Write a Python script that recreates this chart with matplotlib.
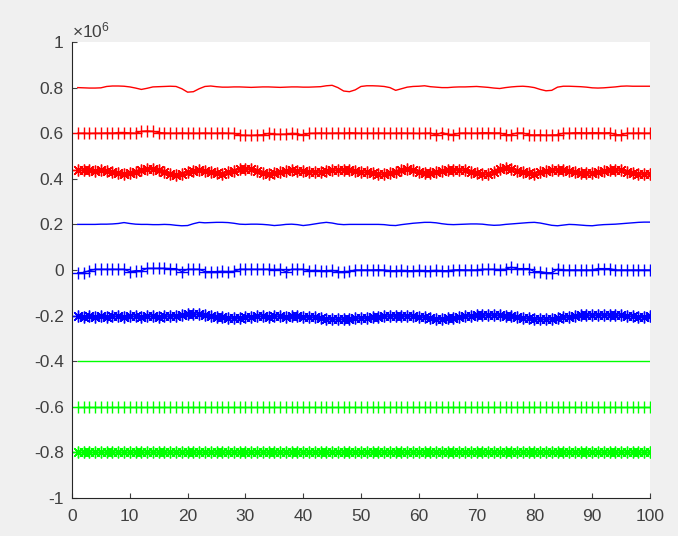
import numpy as np
import matplotlib
matplotlib.use("Agg")
from matplotlib import pyplot as plt
from matplotlib.ticker import FuncFormatter

plt.rcParams['font.family'] = ['Liberation Sans', 'DejaVu Sans']
plt.rcParams['mathtext.fontset'] = 'custom'
plt.rcParams['mathtext.rm'] = 'Liberation Sans'

x = np.arange(1, 101)

# values in thousands
red_line = [800, 799, 798, 798, 799, 805, 807, 807, 806, 803,
            798, 792, 797, 803, 804, 805, 806, 805, 795, 780,
            782, 795, 805, 807, 804, 802, 802, 803, 803, 802,
            801, 802, 803, 803, 802, 801, 802, 803, 803, 802,
            802, 803, 804, 808, 810, 800, 785, 782, 790, 805,
            808, 808, 807, 805, 800, 788, 795, 802, 805, 806,
            808, 804, 802, 800, 800, 802, 803, 803, 804, 805,
            803, 801, 798, 796, 800, 803, 805, 806, 804, 800,
            792, 786, 788, 802, 806, 806, 805, 804, 802, 799,
            798, 799, 801, 803, 806, 807, 806, 806, 806, 806]

red_plus = [600, 600, 599, 600, 600, 601, 600, 603, 603, 601,
            600, 608, 610, 608, 603, 601, 600, 600, 601, 600,
            600, 600, 601, 600, 600, 601, 600, 599, 592, 591,
            590, 592, 593, 599, 596, 595, 596, 599, 598, 590,
            599, 600, 601, 600, 600, 601, 600, 602, 601, 600,
            600, 600, 601, 600, 600, 600, 601, 600, 600, 599,
            600, 601, 592, 603, 595, 594, 600, 601, 600, 600,
            602, 602, 601, 601, 593, 594, 601, 601, 593, 592,
            593, 591, 592, 593, 600, 600, 602, 602, 601, 602,
            602, 601, 602, 594, 593, 600, 600, 601, 600, 600]

red_star = [437, 438, 437, 436, 437, 435, 430, 424, 420, 424,
            432, 440, 445, 444, 438, 428, 419, 415, 420, 430,
            436, 437, 433, 428, 424, 423, 428, 436, 443, 445,
            442, 434, 425, 420, 424, 430, 435, 437, 436, 434,
            432, 430, 430, 433, 437, 439, 440, 437, 433, 430,
            428, 424, 421, 420, 425, 432, 438, 441, 438, 432,
            427, 425, 428, 433, 437, 440, 440, 437, 431, 425,
            421, 420, 430, 442, 448, 444, 436, 429, 424, 423,
            428, 434, 438, 440, 438, 434, 430, 427, 425, 427,
            431, 436, 439, 440, 437, 432, 427, 423, 420, 422]

blue_line = [200, 200, 200, 200, 201, 201, 202, 204, 208, 204,
             201, 200, 200, 199, 199, 200, 199, 196, 194, 195,
             203, 209, 207, 208, 209, 209, 208, 205, 201, 200,
             201, 201, 200, 198, 195, 197, 200, 201, 199, 195,
             198, 202, 206, 209, 206, 201, 199, 200, 200, 200,
             200, 200, 200, 199, 196, 195, 199, 202, 205, 207,
             209, 209, 207, 203, 200, 199, 200, 201, 202, 202,
             201, 198, 196, 197, 200, 202, 204, 206, 208, 209,
             206, 201, 196, 194, 197, 200, 199, 197, 195, 194,
             197, 199, 200, 201, 203, 205, 207, 209, 210, 210]

blue_plus = [-12, -11, -3, 3, 3, 3, 3, 3, 3, -7,
             -3, -3, 7, 7, 7, 7, 6, 6, -7, 3,
             3, 3, -7, -7, -7, -6, -7, -6, 3, 3,
             3, 3, 3, 3, 2, 3, -7, 3, 3, 3,
             -3, -2, -3, -3, -2, -7, -7, -6, 0, 0,
             0, 0, 1, 0, -3, -3, -2, -3, -3, -2,
             -3, -3, -2, -3, -3, 0, 1, 0, 0, 0,
             3, 3, 3, 2, 3, 12, 6, 6, 6, -7,
             -7, -12, -12, 3, 0, 0, 0, 0, 0, 0,
             6, 6, 6, 0, 0, 0, 0, 0, 0, 0]

blue_star = [-203, -204, -203, -204, -203, -204, -203, -203, -204, -203,
             -203, -204, -203, -203, -204, -203, -202, -200, -197, -194,
             -193, -195, -199, -203, -206, -208, -210, -210, -209, -206,
             -204, -203, -203, -204, -203, -203, -204, -203, -203, -204,
             -205, -207, -210, -213, -215, -216, -215, -214, -212, -210,
             -210, -208, -205, -203, -202, -201, -201, -202, -202, -204,
             -207, -210, -213, -213, -212, -209, -206, -203, -200, -199,
             -198, -198, -197, -198, -200, -203, -206, -209, -212, -214,
             -215, -216, -215, -212, -208, -204, -201, -199, -198, -198,
             -197, -197, -198, -198, -199, -201, -203, -204, -204, -203]

green_line = [-400] * 100
green_plus = [-600] * 100
green_star = [-800] * 100

series = [
    (red_line, 'r', None),
    (red_plus, 'r', '+'),
    (red_star, 'r', (8, 2, 0)),
    (blue_line, 'b', None),
    (blue_plus, 'b', '+'),
    (blue_star, 'b', (8, 2, 0)),
    (green_line, 'lime', None),
    (green_plus, 'lime', '+'),
    (green_star, 'lime', (8, 2, 0)),
]

fig = plt.figure(figsize=(6.78, 5.36), dpi=100, facecolor='#f0f0f0')
ax = fig.add_axes([72 / 678, 1 - 498 / 536, 578 / 678, 456 / 536])

for vals, col, mk in series:
    ax.plot(x, np.array(vals) * 1e3, color=col, marker=mk, lw=1.0,
            markersize=8.5, mew=1.0)

ax.set_xlim(0, 100)
ax.set_ylim(-1e6, 1e6)
ax.set_xticks(np.arange(0, 101, 10))
ax.set_yticks(np.arange(-1, 1.01, 0.2) * 1e6)
ax.yaxis.set_major_formatter(FuncFormatter(lambda v, p: f'{round(v / 1e6, 1) + 0:g}'))

for s in ['top', 'right']:
    ax.spines[s].set_visible(False)
for s in ['left', 'bottom']:
    ax.spines[s].set_color('#262626')
    ax.spines[s].set_linewidth(0.8)

ax.tick_params(direction='in', length=3.5, width=0.8, colors='#404040',
               labelsize=12.5)
ax.tick_params(axis='x', pad=8)
ax.tick_params(axis='y', pad=6)

ax.text(0.0, 1.011, r'$\times\mathregular{10^{6}}$', transform=ax.transAxes,
        ha='left', va='baseline', fontsize=12.5, color='#404040')

fig.savefig('out.png', dpi=100, facecolor=fig.get_facecolor())
